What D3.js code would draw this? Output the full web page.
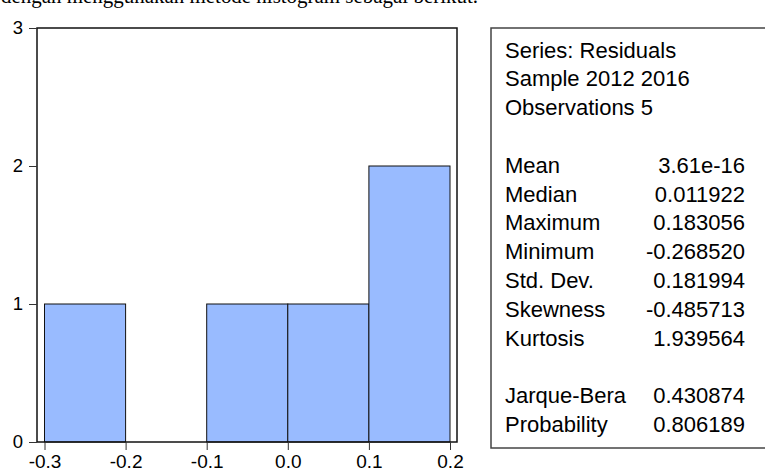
<!DOCTYPE html>
<html>
<head>
<meta charset="utf-8">
<script src="https://cdn.jsdelivr.net/npm/d3@7/dist/d3.min.js"></script>
<style>
  html, body { margin: 0; padding: 0; background: #fff; overflow: hidden; }
  svg { display: block; }
</style>
</head>
<body>
<script>
// ---- data ----
const binStarts = [-0.3, -0.2, -0.1, 0.0, 0.1];
const binEnds   = [-0.2, -0.1, 0.0, 0.1, 0.2];
const counts    = [1, 0, 1, 1, 2];
const xTicks = [-0.3, -0.2, -0.1, 0.0, 0.1, 0.2];
const xTickLabels = ["-0.3", "-0.2", "-0.1", "0.0", "0.1", "0.2"];
const yTicks = [0, 1, 2, 3];
const headerLines = ["Series: Residuals", "Sample 2012 2016", "Observations 5"];
const statNames  = ["Mean", "Median", "Maximum", "Minimum", "Std. Dev.", "Skewness", "Kurtosis"];
const statValues = ["3.61e-16", "0.011922", "0.183056", "-0.268520", "0.181994", "-0.485713", "1.939564"];
const testNames  = ["Jarque-Bera", "Probability"];
const testValues = ["0.430874", "0.806189"];
const captionText = "dengan menggunakan metode histogram sebagai berikut.";

// ---- layout ----
const W = 765, H = 473;
const frame = { left: 37, right: 457, top: 28, bottom: 442 };
const svg = d3.select("body").append("svg").attr("width", W).attr("height", H);

// caption (cut off at top, as in the source)
svg.append("text")
  .attr("x", 1).attr("y", 3)
  .attr("font-family", "'Liberation Serif', 'Times New Roman', serif")
  .attr("font-size", 22)
  .attr("textLength", 477)
  .attr("lengthAdjust", "spacingAndGlyphs")
  .attr("fill", "#000")
  .text(captionText);

const x = d3.scaleLinear().domain([-0.3, 0.2]).range([44.5, 450]);
const y = d3.scaleLinear().domain([0, 3]).range([frame.bottom, frame.top]);

// bars
svg.append("g").selectAll("rect")
  .data(counts.map((c, i) => ({ c, s: binStarts[i], e: binEnds[i] })).filter(d => d.c > 0))
  .join("rect")
  .attr("x", d => x(d.s))
  .attr("width", d => x(d.e) - x(d.s))
  .attr("y", d => y(d.c))
  .attr("height", d => y(0) - y(d.c))
  .attr("fill", "#99bbff")
  .attr("stroke", "#111")
  .attr("stroke-width", 1);

// frame
svg.append("rect")
  .attr("x", frame.left).attr("y", frame.top)
  .attr("width", frame.right - frame.left).attr("height", frame.bottom - frame.top)
  .attr("fill", "none").attr("stroke", "#111").attr("stroke-width", 1.5);

const fontTick = "Arial, 'Liberation Sans', sans-serif";

// y axis
const yAxis = d3.axisLeft(y).tickValues(yTicks).tickFormat(d3.format("d")).tickSize(8).tickPadding(6);
const gy = svg.append("g").attr("transform", `translate(${frame.left},0)`).call(yAxis);
gy.select(".domain").remove();
gy.selectAll("line").attr("stroke", "#333");
gy.selectAll("text").attr("font-family", fontTick).attr("font-size", 18.5).attr("fill", "#000");

// x axis
const xAxis = d3.axisBottom(x).tickValues(xTicks).tickFormat((d, i) => xTickLabels[i]).tickSize(8).tickPadding(5);
const gx = svg.append("g").attr("transform", `translate(0,${frame.bottom})`).call(xAxis);
gx.select(".domain").remove();
gx.selectAll("line").attr("stroke", "#333");
gx.selectAll("text").attr("font-family", fontTick).attr("font-size", 19).attr("fill", "#000");

// stats box
const box = { left: 491, top: 28, right: 780, bottom: 448 };
svg.append("rect")
  .attr("x", box.left).attr("y", box.top)
  .attr("width", box.right - box.left).attr("height", box.bottom - box.top)
  .attr("fill", "#fff").attr("stroke", "#444").attr("stroke-width", 1.5);

const rowH = 28.8, firstBase = 57.5, labelX = 505, valueX = 745;
const rows = [];
headerLines.forEach((t, i) => rows.push({ label: t, value: "", row: i }));
statNames.forEach((t, i) => rows.push({ label: t, value: statValues[i], row: 4 + i }));
testNames.forEach((t, i) => rows.push({ label: t, value: testValues[i], row: 12 + i }));

const gs = svg.append("g")
  .attr("font-family", fontTick).attr("font-size", 22).attr("fill", "#000");
gs.selectAll("text.lab").data(rows).join("text")
  .attr("class", "lab")
  .attr("x", labelX).attr("y", d => firstBase + d.row * rowH)
  .text(d => d.label);
gs.selectAll("text.val").data(rows.filter(d => d.value)).join("text")
  .attr("class", "val")
  .attr("x", valueX).attr("y", d => firstBase + d.row * rowH)
  .attr("text-anchor", "end")
  .text(d => d.value);
</script>
</body>
</html>
